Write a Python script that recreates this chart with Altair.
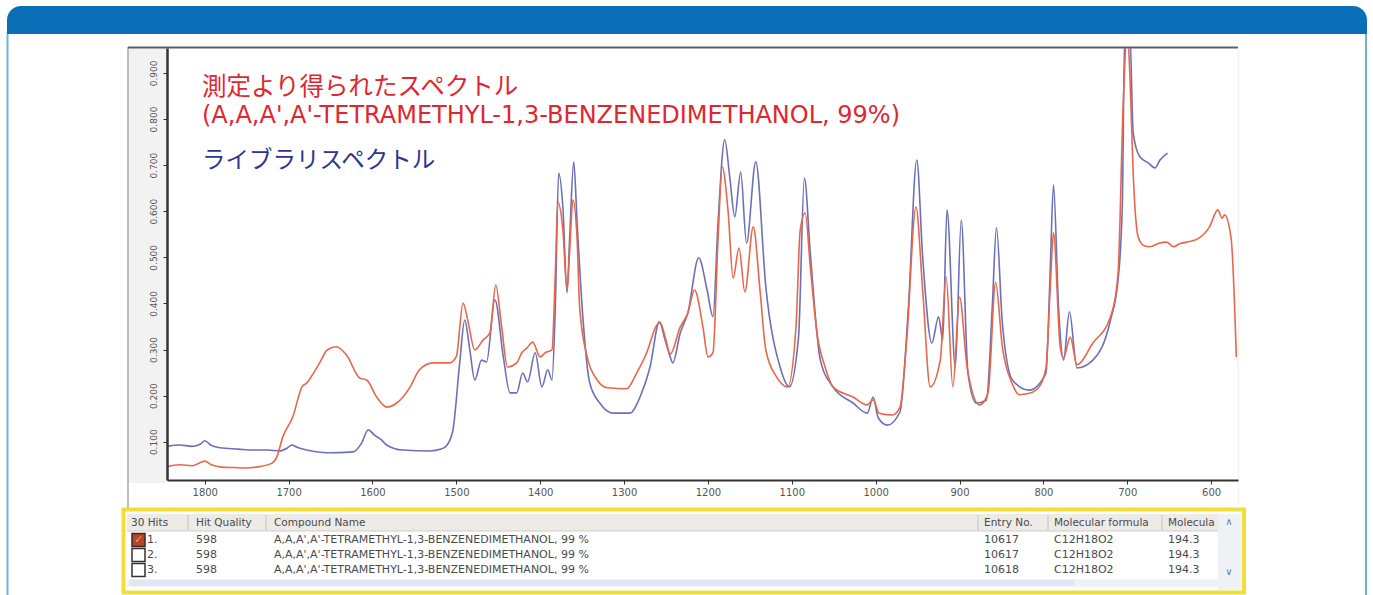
import altair as alt
import pandas as pd

# Measured spectrum: wavenumber (cm-1) and absorbance
meas_wn = [1845, 1830, 1815, 1805, 1800, 1792, 1780, 1765, 1750, 1735, 1720, 1714, 1707,
           1695, 1684, 1678, 1670, 1663, 1654, 1643, 1631, 1615, 1607, 1595, 1583, 1571,
           1555, 1544, 1528, 1508, 1500, 1492, 1486, 1478, 1468, 1460, 1453, 1446, 1439,
           1428, 1422, 1416, 1409, 1400, 1394, 1386, 1382, 1379, 1373, 1368, 1365, 1361,
           1356, 1353, 1344, 1332, 1320, 1297, 1285, 1273, 1261, 1257, 1250, 1245, 1233,
           1224, 1216, 1206, 1200, 1194, 1188, 1183, 1176, 1170, 1163, 1156, 1146, 1138,
           1131, 1118, 1105, 1095, 1090, 1084, 1078, 1070, 1060, 1051, 1027, 1010, 1003,
           996, 980, 971, 963, 952, 944, 935, 923, 916, 908, 900, 891, 876, 866, 857, 849,
           837, 829, 817, 805, 797, 792, 788, 780, 776, 768, 760, 741, 720, 711, 705, 700,
           697, 693, 687, 680, 673, 663, 653, 645, 637, 629, 614, 602, 592, 587, 584, 576,
           572, 570]
meas_abs = [0.046, 0.050, 0.048, 0.055, 0.058, 0.050, 0.045, 0.044, 0.043, 0.046, 0.053, 0.067, 0.110,
            0.154, 0.219, 0.228, 0.250, 0.271, 0.299, 0.306, 0.288, 0.238, 0.234, 0.197, 0.175, 0.184,
            0.219, 0.256, 0.271, 0.271, 0.285, 0.401, 0.360, 0.299, 0.321, 0.336, 0.440, 0.349, 0.262,
            0.271, 0.293, 0.303, 0.316, 0.284, 0.293, 0.299, 0.466, 0.620, 0.559, 0.429, 0.510, 0.625,
            0.538, 0.392, 0.284, 0.234, 0.217, 0.215, 0.249, 0.293, 0.353, 0.358, 0.320, 0.290, 0.349,
            0.379, 0.429, 0.349, 0.284, 0.293, 0.538, 0.696, 0.600, 0.455, 0.520, 0.425, 0.566, 0.430,
            0.299, 0.240, 0.219, 0.350, 0.559, 0.596, 0.480, 0.336, 0.260, 0.219, 0.197, 0.180, 0.191,
            0.162, 0.158, 0.175, 0.321, 0.609, 0.429, 0.219, 0.277, 0.458, 0.219, 0.414, 0.262, 0.180,
            0.206, 0.445, 0.306, 0.225, 0.202, 0.205, 0.219, 0.260, 0.429, 0.553, 0.306, 0.282, 0.327,
            0.267, 0.314, 0.371, 0.466, 0.826, 0.990, 0.900, 0.683, 0.544, 0.525, 0.523, 0.530, 0.533,
            0.523, 0.530, 0.533, 0.542, 0.566, 0.603, 0.585, 0.592, 0.538, 0.392, 0.284]

# Library spectrum: wavenumber (cm-1) and absorbance
lib_wn = [1845, 1830, 1815, 1805, 1800, 1792, 1782, 1760, 1743, 1725, 1711, 1702, 1696, 1690,
          1678, 1654, 1623, 1613, 1605, 1598, 1590, 1583, 1564, 1532, 1518, 1511, 1504, 1496,
          1490, 1484, 1478, 1470, 1464, 1454, 1444, 1436, 1428, 1421, 1415, 1406, 1398, 1391,
          1386, 1382, 1378, 1373, 1368, 1365, 1360, 1356, 1350, 1341, 1329, 1313, 1293, 1281,
          1269, 1258, 1251, 1245, 1242, 1233, 1224, 1211, 1201, 1194, 1188, 1180, 1174, 1168,
          1161, 1154, 1143, 1131, 1114, 1103, 1092, 1085, 1078, 1066, 1051, 1027, 1010, 1003,
          997, 986, 971, 961, 951, 944, 933, 925, 920, 915, 905, 898, 890, 880, 868, 861, 856,
          849, 837, 817, 797, 792, 788, 782, 776, 769, 760, 741, 720, 711, 706, 703, 697, 693,
          685, 675, 667, 661, 652]
lib_abs = [0.090, 0.093, 0.090, 0.095, 0.102, 0.092, 0.087, 0.084, 0.082, 0.082, 0.080, 0.086, 0.093, 0.088,
           0.082, 0.076, 0.078, 0.097, 0.126, 0.115, 0.105, 0.093, 0.082, 0.080, 0.084, 0.093, 0.126, 0.271,
           0.364, 0.300, 0.234, 0.277, 0.273, 0.408, 0.284, 0.206, 0.206, 0.249, 0.230, 0.293, 0.219, 0.256,
           0.234, 0.392, 0.683, 0.609, 0.423, 0.538, 0.707, 0.575, 0.392, 0.228, 0.184, 0.162, 0.162, 0.197,
           0.262, 0.360, 0.320, 0.284, 0.271, 0.336, 0.379, 0.499, 0.429, 0.371, 0.575, 0.755, 0.674, 0.588,
           0.685, 0.531, 0.707, 0.436, 0.262, 0.219, 0.327, 0.672, 0.510, 0.277, 0.219, 0.184, 0.162, 0.197,
           0.152, 0.136, 0.165, 0.392, 0.711, 0.501, 0.314, 0.371, 0.321, 0.603, 0.262, 0.581, 0.249, 0.184,
           0.190, 0.392, 0.564, 0.358, 0.234, 0.212, 0.249, 0.466, 0.657, 0.392, 0.277, 0.382, 0.260, 0.277,
           0.364, 0.451, 0.609, 0.990, 0.990, 0.770, 0.718, 0.705, 0.694, 0.711, 0.726]

x_ticks = [600, 700, 800, 900, 1000, 1100, 1200, 1300, 1400, 1500, 1600, 1700, 1800]
y_ticks = [0.1, 0.2, 0.3, 0.4, 0.5, 0.6, 0.7, 0.8, 0.9]

# Search hit list
hit_headers = ["30 Hits", "Hit Quality", "Compound Name", "Entry No.", "Molecular formula", "Molecula"]
hit_rank = ["1.", "2.", "3."]
hit_quality = ["598", "598", "598"]
hit_compound = ["A,A,A',A'-TETRAMETHYL-1,3-BENZENEDIMETHANOL, 99 %"] * 3
hit_entry = ["10617", "10617", "10618"]
hit_formula = ["C12H18O2", "C12H18O2", "C12H18O2"]
hit_weight = ["194.3", "194.3", "194.3"]

meas_title = "測定より得られたスペクトル"
meas_name = "(A,A,A',A'-TETRAMETHYL-1,3-BENZENEDIMETHANOL, 99%)"
lib_title = "ライブラリスペクトル"

RED = "#e8674a"
BLUE = "#6c70b8"

# Plot-area placement on the page
PL, PT, PW, PH = 167, 48, 1071, 432
W_PAGE, H_PAGE = 1373, 595

one = pd.DataFrame({"k": [0]})


def px(x):
    return x - PL


def py(y):
    return y - PT


def box(x1, y1, x2, y2, **kw):
    return alt.Chart(one).mark_rect(**kw).encode(
        x=alt.value(px(x1)), x2=alt.value(px(x2)),
        y=alt.value(py(y1)), y2=alt.value(py(y2)))


def hline(x1, x2, y, color, width=1):
    return alt.Chart(one).mark_rule(color=color, strokeWidth=width).encode(
        x=alt.value(px(x1)), x2=alt.value(px(x2)), y=alt.value(py(y)))


def vline(x, y1, y2, color, width=1):
    return alt.Chart(one).mark_rule(color=color, strokeWidth=width).encode(
        x=alt.value(px(x)), y=alt.value(py(y1)), y2=alt.value(py(y2)))


def label(x, y, text, **kw):
    kw.setdefault("align", "left")
    kw.setdefault("baseline", "middle")
    return alt.Chart(one).mark_text(**kw).encode(
        x=alt.value(px(x)), y=alt.value(py(y)), text=alt.value(text))


x_scale = alt.Scale(domain=[568, 1845], reverse=True, nice=False, zero=False)
y_scale = alt.Scale(domain=[0.017, 0.954], nice=False, zero=False)

x_axis = alt.Axis(values=x_ticks, format="d", title=None, grid=False,
                  labelFontSize=10, labelColor="#555555", labelFont="DejaVu Sans",
                  tickColor="#333333", tickSize=4, domainColor="#333333",
                  domainWidth=2, labelPadding=3, zindex=1)
y_axis = alt.Axis(values=y_ticks, format=".3f", title=None, grid=False,
                  labelAngle=270, labelAlign="center", labelBaseline="bottom",
                  labelFontSize=9, labelColor="#555555", labelFont="DejaVu Sans",
                  tickColor="#333333", tickSize=4, domainColor="#333333",
                  domainWidth=2.5, labelPadding=5, zindex=1)

meas_df = pd.DataFrame({"wn": meas_wn, "abs": meas_abs})
lib_df = pd.DataFrame({"wn": lib_wn, "abs": lib_abs})

lib_line = alt.Chart(lib_df).mark_line(
    color=BLUE, strokeWidth=1.6, interpolate="monotone", clip=True
).encode(
    x=alt.X("wn:Q", scale=x_scale, axis=x_axis),
    y=alt.Y("abs:Q", scale=y_scale, axis=y_axis),
)
meas_line = alt.Chart(meas_df).mark_line(
    color=RED, strokeWidth=1.6, interpolate="monotone", clip=True
).encode(
    x=alt.X("wn:Q", scale=x_scale, axis=x_axis),
    y=alt.Y("abs:Q", scale=y_scale, axis=y_axis),
)

layers = []

# Page frame and header band
layers.append(box(7.5, 14, 1366, 620, fillOpacity=0, stroke="#6fb0e0",
                  strokeWidth=2, cornerRadius=22))
layers.append(box(7, 6, 1367, 34, fill="#0a6fb7",
                  cornerRadiusTopLeft=22, cornerRadiusTopRight=22))

# Software window around the plot
layers.append(box(128, 47, 166, 483, fill="#f2f2f2"))
layers.append(vline(128, 47, 508, "#a9a9a9", 1.5))
layers.append(hline(128, 1238, 47.5, "#5f5f5f", 2))
layers.append(vline(1238.5, 48, 505, "#f4f1ee", 1.5))

layers.append(lib_line)
layers.append(meas_line)

# Legend texts inside the plot
jp_font = "Noto Sans CJK JP"
layers.append(label(202, 88, meas_title, fontSize=24.5, color="#e0262e", font=jp_font))
layers.append(label(202, 116, meas_name, fontSize=24, color="#e0262e", font="DejaVu Sans"))
layers.append(label(202, 161, lib_title, fontSize=23.5, color="#2e3690", font=jp_font))

# Hit list table
layers.append(box(127, 514, 1218, 531, fill="#ecebe7"))
layers.append(hline(127, 1218, 531, "#cfcdc7", 1))
layers.append(box(1218, 514, 1241, 590, fill="#eef2f7"))
layers.append(box(127, 579, 1218, 587, fill="#eef2f7"))
layers.append(box(129, 580, 1075, 586, fill="#dfe7f0", cornerRadius=2))
for xd in [188, 266, 978, 1048, 1162]:
    layers.append(vline(xd, 515, 530, "#c4c2bc", 1))

tab_font = "DejaVu Sans"
tab_color = "#4a4a4a"
head_x = [131, 196, 274, 984, 1054, 1168]
for hx, ht in zip(head_x, hit_headers):
    layers.append(label(hx, 523, ht, fontSize=10.5, color=tab_color, font=tab_font))
layers.append(label(1229, 522, "∧", fontSize=10, color="#5b7fb3", font=tab_font, align="center"))
layers.append(label(1229, 572, "∨", fontSize=10, color="#5b7fb3", font=tab_font, align="center"))

row_y = [540, 555, 570]
columns = [hit_rank, hit_quality, hit_compound, hit_entry, hit_formula, hit_weight]
col_x = [147, 196, 274, 984, 1054, 1168]
for ry_i, ry in enumerate(row_y):
    for cx, col in zip(col_x, columns):
        layers.append(label(cx, ry, col[ry_i], fontSize=11, color=tab_color, font=tab_font))
    if ry_i == 0:
        layers.append(box(132, ry - 6.5, 145, ry + 6.5, fill="#b4442b",
                          stroke="#3a2a25", strokeWidth=1.5))
        layers.append(label(138.5, ry, "✓", fontSize=11, color="#f2a13c",
                            font=tab_font, align="center"))
    else:
        layers.append(box(132, ry - 6.5, 145, ry + 6.5, fill="#ffffff",
                          stroke="#333333", strokeWidth=1.5))

layers.append(box(123.5, 509.5, 1244, 592.5, fillOpacity=0, stroke="#f2de3a", strokeWidth=4))

chart = alt.layer(*layers).properties(
    width=PW,
    height=PH,
    autosize=alt.AutoSizeParams(type="none"),
    padding={"left": PL, "top": PT, "right": W_PAGE - PL - PW, "bottom": H_PAGE - PT - PH},
    background="white",
).configure_view(stroke=None)

chart.save("out.html", embed_options={"renderer": "svg", "actions": False})
